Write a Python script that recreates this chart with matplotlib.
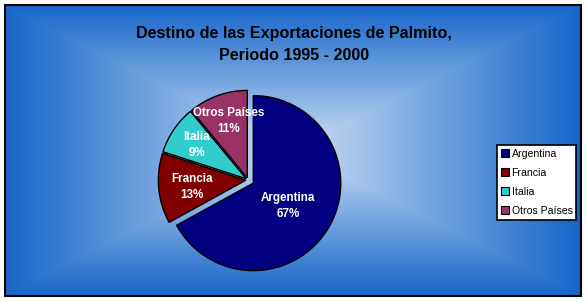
import numpy as np
import matplotlib
matplotlib.use("Agg")
import matplotlib.pyplot as plt
from matplotlib.patches import Rectangle, Patch

# ---- data ----
categories = ["Argentina", "Francia", "Italia", "Otros Países"]
shares = [67, 13, 9, 11]
colors = ["#000080", "#800000", "#33CCCC", "#993366"]
title_text = "Destino de las Exportaciones de Palmito,\nPeriodo 1995 - 2000"

W, H = 586, 301
fig = plt.figure(figsize=(W / 100, H / 100), dpi=100)
fig.patch.set_facecolor("white")

# ---- background gradient (rectangular "from center") ----
fx0, fy0, fx1, fy1 = 5, 5, 581, 296
cx, cy = 293, 150
bg = fig.add_axes([0, 0, 1, 1])
bg.set_xlim(0, W)
bg.set_ylim(H, 0)
bg.axis("off")
xs = np.arange(fx0, fx1) + 0.5
ys = np.arange(fy0, fy1) + 0.5
X, Y = np.meshgrid(xs, ys)
t = np.maximum(np.abs(X - cx) / (fx1 - cx), np.abs(Y - cy) / (fy1 - cy))
t = np.clip(t, 0, 1)
c_in = np.array([205, 224, 244]) / 255
c_out = np.array([21, 101, 201]) / 255
img = c_in[None, None, :] * (1 - t[..., None]) + c_out[None, None, :] * t[..., None]
bg.imshow(img, extent=(fx0, fx1, fy1, fy0), interpolation="bilinear", zorder=0)
bg.add_patch(Rectangle((fx0, fy0), fx1 - fx0, fy1 - fy0, fill=False,
                       edgecolor="black", linewidth=1.5, zorder=2))

fig.text(294 / W, 1 - 44.5 / H, title_text, ha="center", va="center",
         fontsize=11.6, fontweight="bold", family="Liberation Sans",
         linespacing=1.6)

# ---- pie ----
pcx, pcy, r = 248, 180, 87.5
pax = fig.add_axes([(pcx - r) / W, 1 - (pcy + r) / H, 2 * r / W, 2 * r / H])
pax.patch.set_alpha(0)
explode = [0.07, 0.025, 0.025, 0.025]
wedges, texts = pax.pie(shares, colors=colors, startangle=90, counterclock=False,
                        explode=explode,
                        wedgeprops=dict(edgecolor="black", linewidth=1.0))
pax.set_xlim(-1, 1)
pax.set_ylim(-1, 1)
pax.set_aspect("equal")
pax.axis("off")

label_pos = [(288, 206), (192, 187), (197, 145), (229, 121)]
for (lx, ly), name, v in zip(label_pos, categories, shares):
    fig.text(lx / W, 1 - ly / H, f"{name}\n{v}%", ha="center", va="center",
             color="white", fontsize=8.4, fontweight="bold",
             family="Liberation Sans", linespacing=1.45)

# ---- legend ----
handles = [Patch(facecolor=c, edgecolor="black", linewidth=0.8) for c in colors]
leg = fig.legend(handles, categories, loc="upper left",
                 bbox_to_anchor=(497 / W, 1 - 145 / H),
                 prop=dict(family="Liberation Sans", size=7.6),
                 frameon=True, fancybox=False, framealpha=1.0,
                 handlelength=0.75, handleheight=0.75, handletextpad=0.25,
                 labelspacing=0.84, borderpad=0.38, borderaxespad=0)
leg.get_frame().set_edgecolor("black")
leg.get_frame().set_facecolor("white")
leg.get_frame().set_linewidth(1.2)

fig.savefig("out.png", dpi=100)
